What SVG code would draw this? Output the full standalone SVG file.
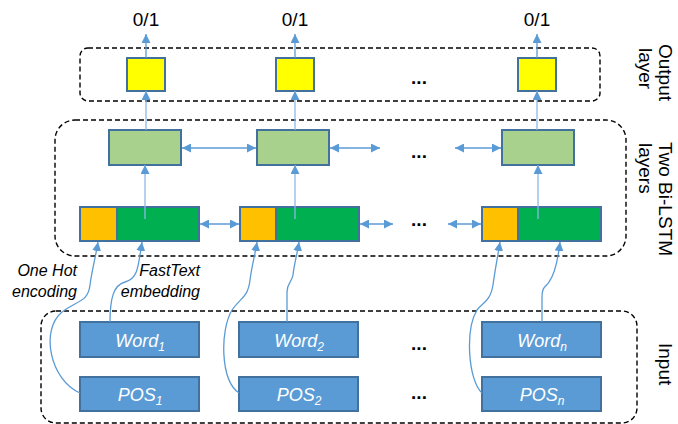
<svg xmlns="http://www.w3.org/2000/svg" width="678" height="424" viewBox="0 0 678 424">
<defs>
<marker id="ah" viewBox="0 0 10 10" refX="10" refY="5" markerWidth="9" markerHeight="9" markerUnits="userSpaceOnUse" orient="auto-start-reverse">
<path d="M0,0 L10,5 L0,10 z" fill="#5B9BD5"/>
</marker>
</defs>
<style>
.dash{fill:none;stroke:#000;stroke-width:1.4;stroke-dasharray:5,3}
.box{stroke:#41719C;stroke-width:2}
.yel{fill:#FFFF00}
.lg{fill:#A9D18E}
.or{fill:#FFC000}
.gr{fill:#00B050}
.bl{fill:#5B9BD5}
.con{fill:none;stroke:#5B9BD5;stroke-width:1.3}
.thin{fill:none;stroke:#8DB8E4;stroke-width:1.3}
.t{font-family:"Liberation Sans",Arial,sans-serif;fill:#000}
.it{font-family:"Liberation Sans",Arial,sans-serif;font-style:italic}
.w{fill:#fff;font-size:18px}
.dots{font-family:"Liberation Sans",Arial,sans-serif;font-size:19px;font-weight:bold;text-anchor:middle}
</style>

<g id="containers">
<rect class="dash" x="80" y="48" width="520" height="53" rx="8"/>
<rect class="dash" x="55" y="120" width="571" height="136" rx="20"/>
<rect class="dash" x="41" y="311" width="596" height="112" rx="15"/>
</g>

<g id="outputs">
<g id="out1"><rect class="box yel" x="127" y="58" width="38" height="33"/><text class="t" x="146" y="26" font-size="19" text-anchor="middle">0/1</text></g>
<g id="out2"><rect class="box yel" x="276" y="58" width="38" height="33"/><text class="t" x="295" y="26" font-size="19" text-anchor="middle">0/1</text></g>
<g id="out3"><rect class="box yel" x="518" y="58" width="38" height="33"/><text class="t" x="537" y="26" font-size="19" text-anchor="middle">0/1</text></g>
<text class="dots" x="419" y="84">...</text>
</g>

<g id="lstm2">
<g id="l2a"><rect class="box lg" x="109" y="130" width="72" height="35"/></g>
<g id="l2b"><rect class="box lg" x="257" y="130" width="72" height="35"/></g>
<g id="l2c"><rect class="box lg" x="502" y="130" width="72" height="35"/></g>
<text class="dots" x="419" y="158">...</text>
</g>

<g id="lstm1">
<g id="l1a"><rect class="box or" x="80" y="207" width="37" height="34"/><rect class="box gr" x="117" y="207" width="82" height="34"/></g>
<g id="l1b"><rect class="box or" x="240" y="207" width="36" height="34"/><rect class="box gr" x="276" y="207" width="83" height="34"/></g>
<g id="l1c"><rect class="box or" x="482" y="207" width="36" height="34"/><rect class="box gr" x="518" y="207" width="83" height="34"/></g>
<text class="dots" x="419" y="226">...</text>
</g>

<g id="inputs">
<g id="word1"><rect class="box bl" x="80" y="322" width="119" height="35"/><text class="it w" x="140" y="347" text-anchor="middle">Word<tspan font-size="12" dy="4">1</tspan></text></g>
<g id="word2"><rect class="box bl" x="239" y="322" width="119" height="35"/><text class="it w" x="299" y="347" text-anchor="middle">Word<tspan font-size="12" dy="4">2</tspan></text></g>
<g id="wordn"><rect class="box bl" x="482" y="322" width="119" height="35"/><text class="it w" x="542" y="347" text-anchor="middle">Word<tspan font-size="12" dy="4">n</tspan></text></g>
<g id="pos1"><rect class="box bl" x="80" y="377" width="119" height="34"/><text class="it w" x="140" y="401" text-anchor="middle">POS<tspan font-size="12" dy="4">1</tspan></text></g>
<g id="pos2"><rect class="box bl" x="239" y="377" width="119" height="34"/><text class="it w" x="299" y="401" text-anchor="middle">POS<tspan font-size="12" dy="4">2</tspan></text></g>
<g id="posn"><rect class="box bl" x="482" y="377" width="119" height="34"/><text class="it w" x="542" y="401" text-anchor="middle">POS<tspan font-size="12" dy="4">n</tspan></text></g>
<text class="dots" x="419" y="350">...</text>
<text class="dots" x="419" y="399">...</text>
</g>

<g id="labels">
<text class="it" x="77" y="276" font-size="16" text-anchor="end">One Hot</text>
<text class="it" x="77" y="297" font-size="16" text-anchor="end">encoding</text>
<text class="it" x="200" y="276" font-size="16" text-anchor="end">FastText</text>
<text class="it" x="200" y="297" font-size="16" text-anchor="end">embedding</text>
<text class="t" font-size="19" transform="translate(659,44) rotate(90)">Output</text>
<text class="t" font-size="19" transform="translate(639,48) rotate(90)">layer</text>
<text class="t" font-size="19" transform="translate(659,142) rotate(90)">Two Bi-LSTM</text>
<text class="t" font-size="19" transform="translate(639,143) rotate(90)">layers</text>
<text class="t" font-size="19" transform="translate(659,343) rotate(90)">Input</text>
</g>

<g id="connectors">
<line class="con" x1="146" y1="58" x2="146" y2="34" marker-end="url(#ah)"/>
<line class="con" x1="295" y1="58" x2="295" y2="34" marker-end="url(#ah)"/>
<line class="con" x1="537" y1="58" x2="537" y2="34" marker-end="url(#ah)"/>
<line class="thin" x1="146" y1="130" x2="146" y2="91" marker-end="url(#ah)"/>
<line class="thin" x1="295" y1="130" x2="295" y2="91" marker-end="url(#ah)"/>
<line class="thin" x1="537" y1="130" x2="537" y2="91" marker-end="url(#ah)"/>
<line class="thin" x1="145" y1="219" x2="145" y2="165" marker-end="url(#ah)"/>
<line class="thin" x1="295" y1="219" x2="295" y2="165" marker-end="url(#ah)"/>
<line class="thin" x1="538" y1="219" x2="538" y2="165" marker-end="url(#ah)"/>
<line class="con" x1="182" y1="148" x2="256" y2="148" marker-start="url(#ah)" marker-end="url(#ah)"/>
<line class="con" x1="330" y1="148" x2="380" y2="148" marker-start="url(#ah)" marker-end="url(#ah)"/>
<line class="con" x1="455" y1="148" x2="501" y2="148" marker-start="url(#ah)" marker-end="url(#ah)"/>
<line class="con" x1="200" y1="224" x2="239" y2="224" marker-start="url(#ah)" marker-end="url(#ah)"/>
<line class="con" x1="360" y1="224" x2="393" y2="224" marker-start="url(#ah)" marker-end="url(#ah)"/>
<line class="con" x1="448" y1="224" x2="481" y2="224" marker-start="url(#ah)" marker-end="url(#ah)"/>
<path class="con" d="M80,393 C50,380 40,330 62,312 C78,300 88,302 90,285 C92,270 96,255 98,242" marker-end="url(#ah)"/>
<path class="con" d="M110,322 C110,300 113,285 125,282 C137,279 138,270 142,242" marker-end="url(#ah)"/>
<path class="con" d="M239,393 C220,380 220,330 232,310 C240,298 248,298 250,280 C252,265 255,255 257,242" marker-end="url(#ah)"/>
<path class="con" d="M287,322 L287,292 C287,283 292,282 293,275 C294,265 297,255 299,242" marker-end="url(#ah)"/>
<path class="con" d="M482,393 C468,380 465,330 477,310 C483,302 490,302 493,285 C495,270 498,255 500,242" marker-end="url(#ah)"/>
<path class="con" d="M542,322 L542,297 C542,286 546,287 549,282 C554,275 558,260 560,242" marker-end="url(#ah)"/>
</g>
</svg>
